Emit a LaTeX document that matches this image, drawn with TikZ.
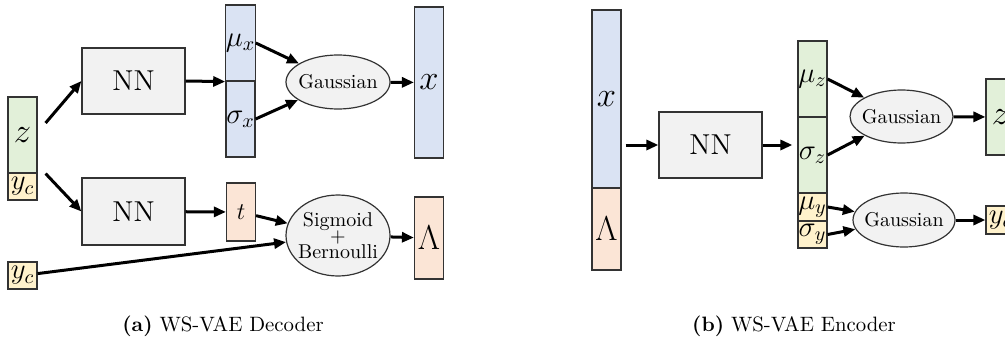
\documentclass[tikz,border=0pt]{standalone}
\usetikzlibrary{arrows.meta,shapes.geometric,calc}
\definecolor{cblue}{HTML}{DAE3F3}
\definecolor{cgreen}{HTML}{E2F0D9}
\definecolor{corange}{HTML}{FBE5D6}
\definecolor{cyellow}{HTML}{FFF2CC}
\definecolor{cgray}{HTML}{F2F2F2}
\begin{document}
\begin{tikzpicture}[x=0.5pt,y=-0.5pt,
  box/.style={draw=black!80,line width=0.6pt,rectangle,inner sep=0pt,minimum width=14.5pt},
  nnbox/.style={draw=black!80,line width=0.6pt,fill=cgray,inner sep=0pt,minimum width=51.5pt,minimum height=33pt,font=\fontsize{14.4}{17}\selectfont},
  dist/.style={draw=black!80,line width=0.6pt,fill=cgray,ellipse,inner sep=-10pt},
  arr/.style={line width=1.5pt,-{Triangle[length=6pt,width=5pt]}},
  captxt/.style={anchor=base,font=\fontsize{10.4}{12}\selectfont},
]
\useasboundingbox (0,0) rectangle (1005,337);
\clip (0,0) rectangle (1005,337);

% ---------- (a) decoder ----------
\node[box,fill=cgreen,minimum height=38pt,font=\LARGE] (z) at (22.5,135) {$z$};
\node[box,fill=cyellow,minimum height=13.5pt,font=\Large] (yca) at (22.5,186.5) {$y_c$};
\node[nnbox] (nna) at (133.5,81) {NN};
\node[nnbox,minimum height=33.5pt] (nnb) at (133.5,211.5) {NN};
\node[box,fill=cblue,minimum height=38pt,font=\Large] (mux) at (240.5,43) {$\mu_x$};
\node[box,fill=cblue,minimum height=38pt,font=\Large] (sgx) at (240.5,119) {$\sigma_x$};
\node[dist,minimum width=52pt,minimum height=27pt] (ga) at (338,82) {Gaussian};
\node[box,fill=cblue,minimum height=75.5pt,font=\LARGE] (xo) at (429,82.5) {$x$};
\node[box,fill=corange,minimum height=29pt,font=\large] (t) at (241,212) {$t$};
\node[dist,minimum width=52pt,minimum height=40.5pt,align=center,
      font={\fontsize{10}{8}\selectfont\lineskiplimit=-5pt\relax}] (sb) at (338,235.5) {Sigmoid\\+\\Bernoulli};
\node[box,fill=corange,minimum height=41pt,font=\LARGE] (lam) at (429,238) {$\Lambda$};
\node[box,fill=cyellow,minimum height=13.5pt,font=\Large] (ycb) at (22.5,275.5) {$y_c$};

\draw[arr] ([xshift=4pt,yshift=6pt]z.east) -- (nna.west);
\draw[arr] ([xshift=4pt]z.south east) -- (nnb.west);
\draw[arr] (nna.east) -- (mux.south west);
\draw[arr] (mux.east) -- (ga);
\draw[arr] (sgx.east) -- (ga);
\draw[arr] (ga) -- (xo);
\draw[arr] (nnb) -- (t);
\draw[arr] (t) -- (sb);
\draw[arr] (ycb) -- (sb);
\draw[arr] (sb) -- (lam);

\node[captxt] (capa) at (223,331) {\textbf{(a)} WS-VAE Decoder};

% ---------- (b) encoder ----------
\node[box,fill=cblue,minimum height=89pt,font=\LARGE] (xi) at (606.5,99) {$x$};
\node[box,fill=corange,minimum height=41pt,font=\LARGE] (li) at (606.5,229) {$\Lambda$};
\node[nnbox] (nnc) at (710.5,145) {NN};
\node[box,fill=cgreen,minimum height=38pt,font=\Large] (muz) at (812.5,79) {$\mu_z$};
\node[box,fill=cgreen,minimum height=38pt,font=\Large] (sgz) at (812.5,155) {$\sigma_z$};
\node[box,fill=cyellow,minimum height=14pt,font=\Large] (muy) at (812.5,207) {$\mu_y$};
\node[box,fill=cyellow,minimum height=13.5pt,font=\Large] (sgy) at (812.5,234.5) {$\sigma_y$};
\node[dist,minimum width=51.5pt,minimum height=26.5pt] (gb) at (901.5,116.5) {Gaussian};
\node[dist,minimum width=51pt,minimum height=27pt] (gc) at (904,220) {Gaussian};
\node[box,fill=cgreen,minimum height=38pt,font=\LARGE] (zo) at (1000.5,117) {$z$};
\node[box,fill=cyellow,minimum height=14pt,font=\Large] (yco) at (1000.5,220) {$y_c$};

\draw[arr,shorten <=2pt] (xi.east |- nnc.west) -- (nnc.west);
\draw[arr,shorten >=2.5pt] (nnc.east) -- (nnc.east -| sgz.west);
\draw[arr] (muz.east) -- (gb);
\draw[arr] (sgz.east) -- (gb);
\draw[arr] (gb) -- (zo);
\draw[arr] (muy.east) -- (gc);
\draw[arr] (sgy.east) -- (gc);
\draw[arr] (gc) -- (yco);

\node[captxt] (capb) at (794,331) {\textbf{(b)} WS-VAE Encoder};
\end{tikzpicture}
\end{document}
